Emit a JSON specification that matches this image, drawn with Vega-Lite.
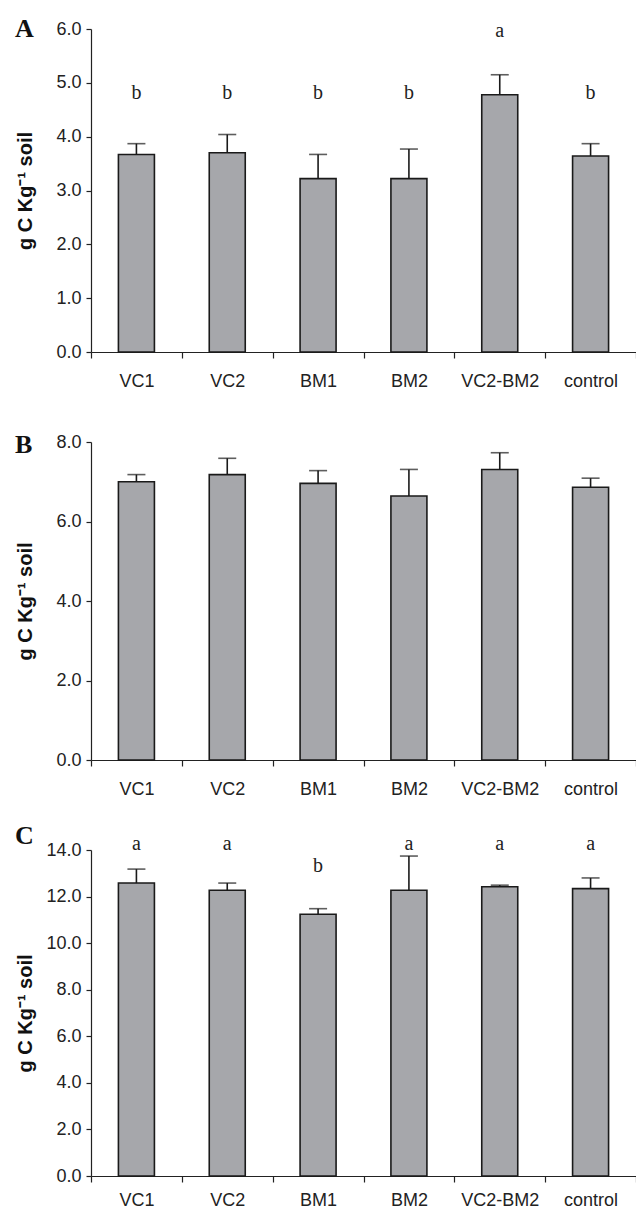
{
  "$schema": "https://vega.github.io/schema/vega-lite/v6.json",
  "padding": {"left": 15, "top": 16, "right": 0, "bottom": 0},
  "bounds": "flush",
  "spacing": 90,
  "background": "white",
  "config": {
    "view": {"stroke": null},
    "axis": {
      "domainColor": "#222222",
      "domainWidth": 1.2,
      "tickColor": "#222222",
      "tickWidth": 1.2,
      "labelColor": "#222222",
      "labelFont": "Liberation Sans",
      "labelFontSize": 18,
      "grid": false
    },
    "axisX": {"tickSize": 6, "labelPadding": 14, "labelAngle": 0, "tickBand": "extent"},
    "axisY": {
      "tickSize": 5,
      "labelPadding": 5,
      "titleFont": "Liberation Sans",
      "titleFontWeight": "bold",
      "titleFontSize": 20,
      "titleColor": "#111111",
      "titleX": -56,
      "format": ".1f"
    },
    "title": {
      "anchor": "start",
      "frame": "group",
      "font": "Liberation Serif",
      "fontSize": 26,
      "fontWeight": "bold",
      "color": "#111111",
      "offset": 0,
      "baseline": "alphabetic",
      "dx": -76
    }
  },
  "datasets": {
    "A": [
      {"treatment": "VC1", "mean": 3.67, "upper": 3.87, "letter": "b"},
      {"treatment": "VC2", "mean": 3.70, "upper": 4.04, "letter": "b"},
      {"treatment": "BM1", "mean": 3.22, "upper": 3.67, "letter": "b"},
      {"treatment": "BM2", "mean": 3.22, "upper": 3.77, "letter": "b"},
      {"treatment": "VC2-BM2", "mean": 4.78, "upper": 5.15, "letter": "a"},
      {"treatment": "control", "mean": 3.64, "upper": 3.87, "letter": "b"}
    ],
    "B": [
      {"treatment": "VC1", "mean": 7.00, "upper": 7.18},
      {"treatment": "VC2", "mean": 7.18, "upper": 7.59},
      {"treatment": "BM1", "mean": 6.96, "upper": 7.28},
      {"treatment": "BM2", "mean": 6.64, "upper": 7.31},
      {"treatment": "VC2-BM2", "mean": 7.31, "upper": 7.73},
      {"treatment": "control", "mean": 6.86, "upper": 7.09}
    ],
    "C": [
      {"treatment": "VC1", "mean": 12.58, "upper": 13.18, "letter": "a"},
      {"treatment": "VC2", "mean": 12.27, "upper": 12.58, "letter": "a"},
      {"treatment": "BM1", "mean": 11.24, "upper": 11.48, "letter": "b"},
      {"treatment": "BM2", "mean": 12.27, "upper": 13.74, "letter": "a"},
      {"treatment": "VC2-BM2", "mean": 12.42, "upper": 12.49, "letter": "a"},
      {"treatment": "control", "mean": 12.34, "upper": 12.80, "letter": "a"}
    ]
  },
  "vconcat": [
    {
      "title": {"text": "A", "dy": 26},
      "width": 545,
      "height": 323,
      "data": {"name": "A"},
      "encoding": {
        "x": {"field": "treatment", "type": "nominal", "sort": null, "title": null, "scale": {"paddingInner": 0, "paddingOuter": 0}}
      },
      "layer": [
        {
          "mark": {"type": "bar", "fill": "#a6a7ab", "stroke": "#1a1a1a", "strokeWidth": 1.6, "width": 36},
          "encoding": {"y": {"field": "mean", "type": "quantitative", "scale": {"domain": [0, 6]}, "axis": {"values": [0, 1, 2, 3, 4, 5, 6], "title": "g C Kg⁻¹ soil"}}}
        },
        {
          "mark": {"type": "rule", "color": "#1a1a1a", "strokeWidth": 1.6},
          "encoding": {"y": {"field": "mean", "type": "quantitative"}, "y2": {"field": "upper"}}
        },
        {
          "mark": {"type": "tick", "color": "#1a1a1a", "thickness": 1.6, "size": 18, "orient": "horizontal"},
          "encoding": {"y": {"field": "upper", "type": "quantitative"}}
        },
        {
          "transform": [{"filter": "datum.letter == 'b'"}],
          "mark": {"type": "text", "font": "Liberation Serif", "fontSize": 20, "color": "#222222", "baseline": "alphabetic"},
          "encoding": {"y": {"datum": 4.70, "type": "quantitative"}, "text": {"field": "letter"}}
        },
        {
          "transform": [{"filter": "datum.letter == 'a'"}],
          "mark": {"type": "text", "font": "Liberation Serif", "fontSize": 20, "color": "#222222", "baseline": "alphabetic"},
          "encoding": {"y": {"datum": 5.86, "type": "quantitative"}, "text": {"field": "letter"}}
        }
      ]
    },
    {
      "title": {"text": "B", "dy": 29},
      "width": 545,
      "height": 318,
      "data": {"name": "B"},
      "encoding": {
        "x": {"field": "treatment", "type": "nominal", "sort": null, "title": null, "scale": {"paddingInner": 0, "paddingOuter": 0}}
      },
      "layer": [
        {
          "mark": {"type": "bar", "fill": "#a6a7ab", "stroke": "#1a1a1a", "strokeWidth": 1.6, "width": 36},
          "encoding": {"y": {"field": "mean", "type": "quantitative", "scale": {"domain": [0, 8]}, "axis": {"values": [0, 2, 4, 6, 8], "title": "g C Kg⁻¹ soil"}}}
        },
        {
          "mark": {"type": "rule", "color": "#1a1a1a", "strokeWidth": 1.6},
          "encoding": {"y": {"field": "mean", "type": "quantitative"}, "y2": {"field": "upper"}}
        },
        {
          "mark": {"type": "tick", "color": "#1a1a1a", "thickness": 1.6, "size": 18, "orient": "horizontal"},
          "encoding": {"y": {"field": "upper", "type": "quantitative"}}
        }
      ]
    },
    {
      "title": {"text": "C", "dy": 19},
      "width": 545,
      "height": 326,
      "data": {"name": "C"},
      "encoding": {
        "x": {"field": "treatment", "type": "nominal", "sort": null, "title": null, "scale": {"paddingInner": 0, "paddingOuter": 0}, "axis": {"labelPadding": 9}}
      },
      "layer": [
        {
          "mark": {"type": "bar", "fill": "#a6a7ab", "stroke": "#1a1a1a", "strokeWidth": 1.6, "width": 36},
          "encoding": {"y": {"field": "mean", "type": "quantitative", "scale": {"domain": [0, 14]}, "axis": {"values": [0, 2, 4, 6, 8, 10, 12, 14], "title": "g C Kg⁻¹ soil"}}}
        },
        {
          "mark": {"type": "rule", "color": "#1a1a1a", "strokeWidth": 1.6},
          "encoding": {"y": {"field": "mean", "type": "quantitative"}, "y2": {"field": "upper"}}
        },
        {
          "mark": {"type": "tick", "color": "#1a1a1a", "thickness": 1.6, "size": 18, "orient": "horizontal"},
          "encoding": {"y": {"field": "upper", "type": "quantitative"}}
        },
        {
          "transform": [{"filter": "datum.letter == 'b'"}],
          "mark": {"type": "text", "font": "Liberation Serif", "fontSize": 20, "color": "#222222", "baseline": "alphabetic"},
          "encoding": {"y": {"datum": 13.05, "type": "quantitative"}, "text": {"field": "letter"}}
        },
        {
          "transform": [{"filter": "datum.letter == 'a'"}],
          "mark": {"type": "text", "font": "Liberation Serif", "fontSize": 20, "color": "#222222", "baseline": "alphabetic"},
          "encoding": {"y": {"datum": 14.0, "type": "quantitative"}, "text": {"field": "letter"}}
        }
      ]
    }
  ]
}
